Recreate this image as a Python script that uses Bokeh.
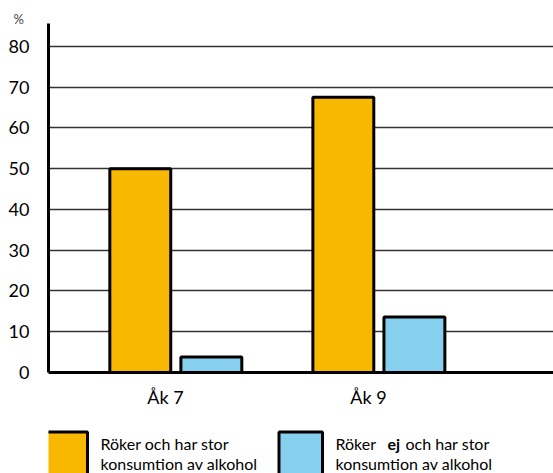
from bokeh.plotting import figure
from bokeh.models import Range1d, FixedTicker, ColumnDataSource
from bokeh.layouts import column
from bokeh.embed import file_html
from bokeh.resources import INLINE
from bokeh.core.properties import value

categories = ["Åk 7", "Åk 9"]
smokes_alcohol = [50, 67.5]
no_smoke_alcohol = [3.8, 13.6]
y_ticks = [0, 10, 20, 30, 40, 50, 60, 70, 80]
legend_labels = ["Röker och har stor", "konsumtion av alkohol"]
orange = "#F9B800"
blue = "#87CFEE"
FONT = "Lato"

xs = list(range(len(categories)))
p = figure(width=553, height=415, output_backend="svg", toolbar_location=None,
           x_range=Range1d(-0.576, 1.911), y_range=Range1d(0, 85.6),
           min_border_left=48, min_border_right=0, min_border_top=23, min_border_bottom=43)
p.outline_line_color = None
p.background_fill_color = "white"

p.title.text = "%"
p.title.align = "left"
p.title.offset = -35
p.title.text_font = FONT
p.title.text_font_size = "13px"
p.title.text_font_style = "normal"
p.title.standoff = -6

src_o = ColumnDataSource(dict(x=[x - 0.124 for x in xs], top=smokes_alcohol))
src_b = ColumnDataSource(dict(x=[x + 0.226 for x in xs], top=no_smoke_alcohol))
p.vbar(x="x", top="top", bottom=0, width=0.30, source=src_o, fill_color=orange,
       line_color="black", line_width=3)
p.vbar(x="x", top="top", bottom=0, width=0.30, source=src_b, fill_color=blue,
       line_color="black", line_width=3)

p.xaxis.ticker = FixedTicker(ticks=xs)
p.xaxis.major_label_overrides = {i: c for i, c in enumerate(categories)}
p.xaxis.major_tick_line_color = None
p.xaxis.minor_tick_line_color = None
p.xaxis.axis_line_width = 3
p.xaxis.axis_line_color = "black"
p.xaxis.major_label_text_font = FONT
p.xaxis.major_label_text_font_size = "18px"
p.xaxis.major_label_text_color = "black"
p.xaxis.major_label_standoff = 7

p.yaxis.ticker = FixedTicker(ticks=y_ticks)
p.yaxis.major_tick_line_color = None
p.yaxis.minor_tick_line_color = None
p.yaxis.axis_line_width = 3
p.yaxis.axis_line_color = "black"
p.yaxis.major_label_text_font = FONT
p.yaxis.major_label_text_font_size = "18px"
p.yaxis.major_label_text_color = "black"
p.yaxis.major_label_standoff = 13

p.xgrid.grid_line_color = None
p.ygrid.grid_line_color = "#333333"
p.ygrid.grid_line_width = 1.5

# legend strip (coordinates in page pixels)
lg = figure(width=553, height=58, output_backend="svg", toolbar_location=None,
            x_range=Range1d(48, 553), y_range=Range1d(473, 415),
            min_border_left=48, min_border_right=0, min_border_top=0, min_border_bottom=0)
lg.axis.visible = False
lg.grid.visible = False
lg.outline_line_color = None

lg.quad(left=[44.5, 278.5], right=[87, 322], top=[431.5, 431.5], bottom=[480, 480],
        fill_color=[orange, blue], line_color="black", line_width=3)
tf = value(FONT)
lg.text(x=[100, 100], y=[443, 463], text=legend_labels, text_font=tf,
        text_font_size="16px", text_baseline="middle", text_color="black")
lg.text(x=[335], y=[443], text=["Röker"], text_font=tf, text_font_size="16px",
        text_baseline="middle", text_color="black")
lg.text(x=[387], y=[443], text=["ej"], text_font=tf, text_font_size="16px",
        text_font_style="bold", text_baseline="middle", text_color="black")
lg.text(x=[405], y=[443], text=["och har stor"], text_font=tf, text_font_size="16px",
        text_baseline="middle", text_color="black")
lg.text(x=[335], y=[463], text=[legend_labels[1]], text_font=tf, text_font_size="16px",
        text_baseline="middle", text_color="black")

layout = column(p, lg, spacing=0)
open("out.html", "w").write(file_html(layout, INLINE))
